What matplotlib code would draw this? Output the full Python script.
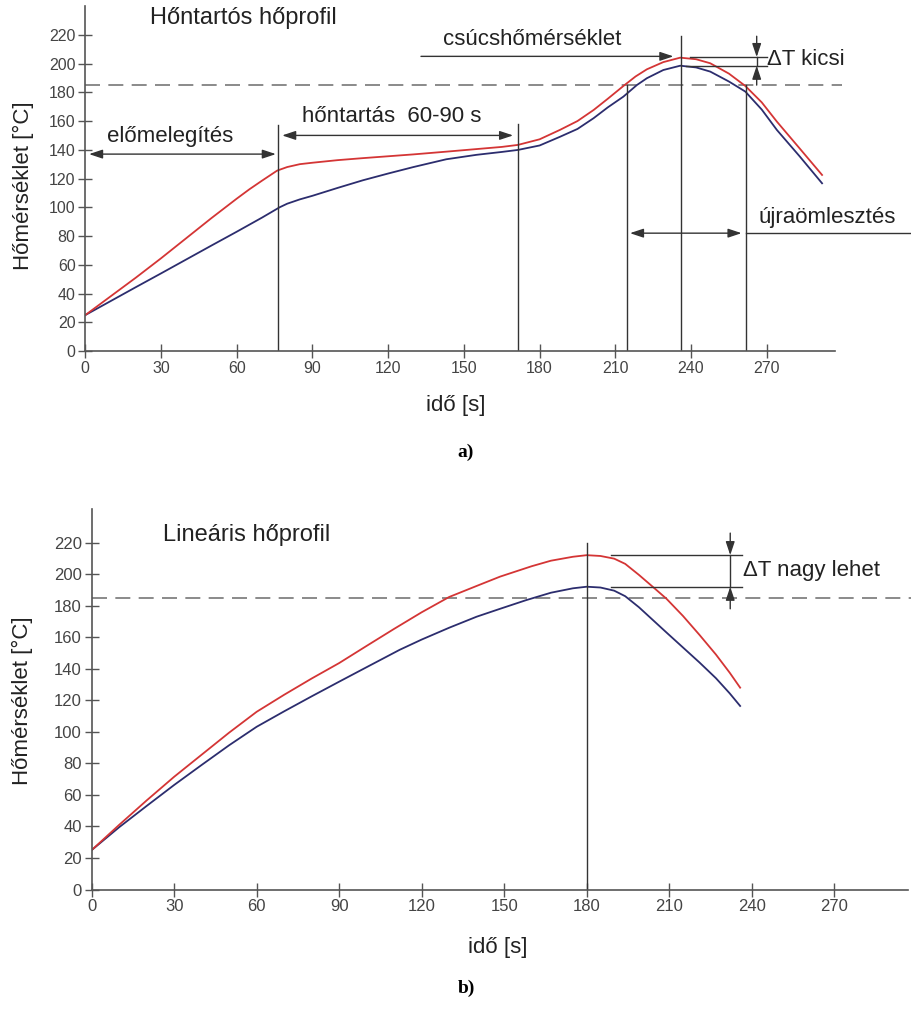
import matplotlib
matplotlib.use("Agg")
import matplotlib.pyplot as plt

plt.rcParams['font.family'] = ['Liberation Sans', 'DejaVu Sans']

# === data ===
# a) soak profile
t_a_red = [0, 10, 20, 30, 40, 50, 60, 65, 70, 76, 80, 85, 90, 100, 110, 120, 130, 143, 155, 165, 171.4,
           180, 188, 195, 201.4, 207, 213.2, 218, 222.5, 229, 235.7, 242, 247.6, 255, 261.5, 268, 274, 283, 291.9]
T_a_red = [25, 38, 51, 64.5, 78.5, 92.5, 106, 112.5, 118.5, 125.5, 128, 130, 131, 132.8, 134.2, 135.5, 136.8,
           138.7, 140.5, 142, 143.4, 147.3, 153.8, 160, 167.7, 175.5, 184.4, 191, 196, 201, 204.1, 203, 200.2,
           193, 184.4, 173, 159.6, 141, 122.5]
t_a_blue = [0, 10, 20, 30, 40, 50, 60, 70, 77, 80, 85, 90, 100, 110, 120, 130, 143, 155, 165, 171.4,
            180, 188, 195, 201.4, 207, 213.2, 218.5, 222.5, 229, 235.7, 242, 247.6, 255, 261.5, 268, 274, 283, 291.9]
T_a_blue = [25, 34.7, 44.4, 54, 63.7, 73.4, 83, 92.8, 100, 102.5, 105.5, 108, 113.5, 118.8, 123.5, 128, 133.4,
            136.5, 138.5, 139.9, 143, 149, 154.5, 162, 169.5, 177, 185, 189.8, 195.5, 198.5, 197.3, 194.4,
            187.5, 180.5, 168, 153.8, 135.5, 116.7]

# b) linear profile
t_b_red = [0, 10, 20, 30, 40, 50, 60, 70, 80, 90, 100, 110, 120, 130, 140, 148.5, 160, 167, 175, 180,
           185, 190, 194, 199, 204, 209, 215, 221, 227, 232, 235.8]
T_b_red = [25, 41, 56.5, 71.5, 85.5, 99.5, 112.7, 123.5, 133.8, 143.6, 154.5, 165.3, 175.8, 185.5, 192.5, 198.4,
           205, 208.5, 211, 212, 211.5, 209.8, 206.5, 199.5, 192, 184.4, 173.5, 161.5, 149, 137.5, 128]
t_b_blue = [0, 10, 20, 30, 40, 50, 60, 70, 80, 90, 100, 112, 120, 130, 140, 148.5, 158, 167, 175, 180,
            185, 190, 194, 199, 204, 209, 215, 221, 227, 232, 235.8]
T_b_blue = [25, 39.5, 53, 66.3, 79, 91.5, 103.2, 113, 122.5, 131.8, 141, 152, 158.5, 166, 173, 178, 183.5,
            188.2, 191, 192, 191.5, 189.5, 186, 179, 171, 163, 153.5, 144, 134, 124.4, 116.4]

x_ticks = [0, 30, 60, 90, 120, 150, 180, 210, 240, 270]
y_ticks = [0, 20, 40, 60, 80, 100, 120, 140, 160, 180, 200, 220]
reflow_T = 185

RED = '#d43535'
BLUE = '#2c2d6e'
DARK = '#333333'
AXC = '#555555'


def style_axes(ax, ymax, tick_size):
    ax.set_xlim(0, 297)
    ax.set_ylim(0, ymax)
    for s in ['top', 'right']:
        ax.spines[s].set_visible(False)
    for s in ['left', 'bottom']:
        ax.spines[s].set_color(AXC)
        ax.spines[s].set_linewidth(1.2)
    ax.set_xticks(x_ticks)
    ax.set_yticks(y_ticks)
    ax.tick_params(direction='inout', length=10, width=1, color=AXC,
                   labelsize=tick_size, labelcolor='#444444', pad=2)
    ax.axhline(reflow_T, xmin=0, xmax=1.01, color='#777777', lw=1.2,
               dashes=(9, 5), clip_on=False)


def arrow(ax, x0, y0, x1, y1, style):
    ax.annotate('', xy=(x1, y1), xytext=(x0, y0), annotation_clip=False,
                arrowprops=dict(arrowstyle=style, color=DARK, lw=1,
                                shrinkA=0, shrinkB=0, mutation_scale=9))


HEAD = '-|>,head_length=0.9,head_width=0.3'
BOTH = '<|-|>,head_length=0.9,head_width=0.3'
ANN = 16

fig = plt.figure(figsize=(9.12, 10.09), dpi=100)

# ---------- a) ----------
ax1 = fig.add_axes([0.0935, 0.6521, 0.822, 0.3419])
style_axes(ax1, 240, 11.5)
ax1.plot(t_a_blue, T_a_blue, color=BLUE, lw=1.3)
ax1.plot(t_a_red, T_a_red, color=RED, lw=1.3)

for xv, top in [(76.5, 157), (171.4, 158), (214.6, 185), (236, 219), (261.6, 185)]:
    ax1.plot([xv, xv], [0, top], color=DARK, lw=1)

ax1.text(25.6, 232, 'Hőntartós hőprofil', fontsize=17, va='center', color='#222222')
ax1.text(8.6, 149, 'előmelegítés', fontsize=ANN, va='center', color='#222222')
arrow(ax1, 1.5, 137, 75.5, 137, BOTH)
ax1.text(85.7, 163, 'hőntartás  60-90 s', fontsize=ANN, va='center', color='#222222')
arrow(ax1, 78, 150, 169.5, 150, BOTH)
ax1.text(141.7, 217, 'csúcshőmérséklet', fontsize=ANN, va='center', color='#222222')
arrow(ax1, 133, 205, 233, 205, HEAD)

ax1.plot([239.6, 270], [204.5, 204.5], color=DARK, lw=1)
ax1.plot([238, 270], [198.5, 198.5], color=DARK, lw=1)
arrow(ax1, 266, 219, 266, 204.5, HEAD)
ax1.plot([266, 266], [204.5, 198.5], color=DARK, lw=1)
arrow(ax1, 266, 185, 266, 198.5, HEAD)
ax1.text(270, 203, 'ΔT kicsi', fontsize=ANN, va='center', color='#222222')

ax1.text(266.6, 93, 'újraömlesztés', fontsize=ANN, va='center', color='#222222')
ax1.plot([261.6, 328], [82, 82], color=DARK, lw=1, clip_on=False)
arrow(ax1, 215.8, 82, 260, 82, BOTH)

# ---------- b) ----------
ax2 = fig.add_axes([0.1005, 0.1184, 0.8956, 0.3767])
style_axes(ax2, 241, 12)
ax2.plot(t_b_blue, T_b_blue, color=BLUE, lw=1.3)
ax2.plot(t_b_red, T_b_red, color=RED, lw=1.3)

ax2.plot([180, 180], [0, 220], color=DARK, lw=1)
ax2.plot([189, 236.4], [212, 212], color=DARK, lw=1)
ax2.plot([189, 236.4], [192, 192], color=DARK, lw=1)
arrow(ax2, 232.2, 226, 232.2, 212, HEAD)
ax2.plot([232.2, 232.2], [212, 192], color=DARK, lw=1)
arrow(ax2, 232.2, 178, 232.2, 192, HEAD)
ax2.text(236.7, 202.6, 'ΔT nagy lehet', fontsize=ANN, va='center', color='#222222')
ax2.text(25.9, 224.8, 'Lineáris hőprofil', fontsize=17, va='center', color='#222222')

# axis labels and panel captions
fig.text(0.0252, 0.8157, 'Hőmérséklet [°C]', rotation=90, fontsize=16,
         ha='center', va='center', color='#222222')
fig.text(0.5, 0.5986, 'idő [s]', fontsize=16, ha='center', va='center', color='#222222')
fig.text(0.51, 0.552, 'a)', fontsize=14, fontweight='bold', family='Liberation Serif',
         ha='center', va='center')

fig.text(0.0242, 0.306, 'Hőmérséklet [°C]', rotation=90, fontsize=16,
         ha='center', va='center', color='#222222')
fig.text(0.546, 0.0614, 'idő [s]', fontsize=16, ha='center', va='center', color='#222222')
fig.text(0.511, 0.02, 'b)', fontsize=14, fontweight='bold', family='Liberation Serif',
         ha='center', va='center')

fig.savefig('out.png', dpi=100)
